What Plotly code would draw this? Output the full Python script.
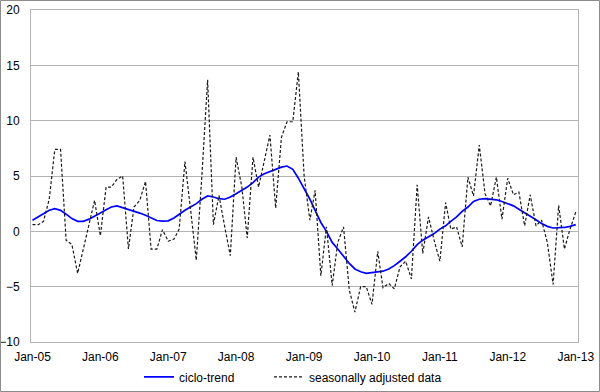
import pandas as pd
import plotly.graph_objects as go

months = pd.date_range("2005-01-01", periods=97, freq="MS")

trend = [1.0, 1.3, 1.6, 1.9, 2.05, 1.9, 1.55, 1.15, 0.9, 0.9, 1.1, 1.35,
         1.65, 1.95, 2.2, 2.3, 2.15, 1.95, 1.8, 1.65, 1.45, 1.2, 0.98, 0.93,
         0.95, 1.2, 1.55, 1.9, 2.2, 2.5, 2.9, 3.2, 3.1, 2.95, 2.9, 3.1,
         3.4, 3.7, 4.0, 4.4, 4.9, 5.2, 5.4, 5.65, 5.8, 5.9, 5.6, 4.8,
         3.9, 2.9, 1.9, 0.8, 0.0, -1.0, -1.6, -2.3, -2.9, -3.4, -3.65, -3.8,
         -3.75, -3.7, -3.6, -3.4, -3.1, -2.7, -2.3, -1.8, -1.2, -0.8, -0.5, -0.2,
         0.2, 0.5, 0.9, 1.3, 1.8, 2.2, 2.7, 2.9, 2.95, 2.9, 2.85, 2.7,
         2.5, 2.3, 2.0, 1.7, 1.4, 1.05, 0.7, 0.45, 0.3, 0.3, 0.35, 0.45,
         0.6]

sa_data = [0.6, 0.6, 0.9, 2.9, 7.4, 7.4, -0.8, -1.2, -3.8, -1.7, 0.5, 2.8,
           -0.4, 4.0, 4.0, 4.7, 5.0, -1.6, 2.2, 2.8, 4.5, -1.6, -1.6, 0.15,
           -0.9, -0.7, 0.2, 6.3, 2.0, -2.6, 5.0, 13.7, 0.6, 3.25, 0.4, -2.2,
           6.7, 4.0, -0.6, 6.7, 4.0, 6.4, 8.7, 2.1, 8.5, 9.9, 9.9, 14.4,
           5.0, 1.0, 3.7, -4.0, 0.4, -4.9, -1.0, 0.4, -5.3, -7.3, -5.0, -5.0,
           -6.6, -1.8, -5.1, -4.7, -5.2, -3.2, -2.7, -4.3, 4.2, -2.0, 1.3, -0.8,
           -2.7, 2.6, 0.2, 0.4, -1.4, 4.9, 3.2, 7.8, 3.4, 2.3, 4.9, 1.1,
           4.8, 3.3, 3.55, 0.5, 3.3, 0.5, 1.0, -1.0, -4.8, 2.35, -1.6, 0.2,
           1.75]

tick_dates = pd.date_range("2005-01-01", periods=9, freq="12MS")
tick_labels = ["Jan-05", "Jan-06", "Jan-07", "Jan-08", "Jan-09",
               "Jan-10", "Jan-11", "Jan-12", "Jan-13"]
minor_ticks = pd.date_range("2005-12-01", periods=8, freq="12MS") + pd.Timedelta(days=15)

grid_col = "#b4b4b4"
xrange = ["2004-12-24", "2013-01-13"]

fig = go.Figure()
fig.add_trace(go.Scatter(x=months, y=trend, mode="lines", name="ciclo-trend",
                         line=dict(color="#0000ff", width=1.7), legend="legend"))
fig.add_trace(go.Scatter(x=months, y=sa_data, mode="lines",
                         name="seasonally adjusted data", legend="legend2",
                         line=dict(color="#1a1a1a", width=1.2, dash="3px,2px")))

leg_common = dict(orientation="h", xanchor="left", y=-0.105, yanchor="middle",
                  font=dict(size=12), itemwidth=30, bgcolor="rgba(0,0,0,0)")

fig.update_layout(
    width=600, height=392,
    margin=dict(l=31, r=22, t=10, b=50, autoexpand=False),
    paper_bgcolor="white", plot_bgcolor="white",
    font=dict(family="Liberation Sans, Arial, sans-serif", size=11, color="black"),
    showlegend=True,
    legend=dict(x=(139 - 31) / 547, **leg_common),
    legend2=dict(x=(269 - 31) / 547, **leg_common),
    xaxis=dict(type="date", range=xrange, tickvals=tick_dates, ticktext=tick_labels,
               showgrid=False, showline=True, linecolor=grid_col, mirror=True,
               ticks="", tickfont=dict(size=12), zeroline=False, automargin=False,
               ticklabelstandoff=4),
    xaxis2=dict(type="date", range=xrange, overlaying="x", anchor="free",
                position=1/3, side="bottom", tickvals=minor_ticks,
                showticklabels=False, ticks="outside", ticklen=3,
                tickcolor=grid_col, showgrid=False, showline=False,
                automargin=False),
    yaxis=dict(range=[-10, 20], dtick=5, showgrid=True, gridcolor=grid_col,
               gridwidth=1, zeroline=False, showline=True, linecolor=grid_col,
               mirror=True, ticks="", tickfont=dict(size=12),
               ticklabelstandoff=8, automargin=False),
)

fig.add_shape(type="rect", xref="paper", yref="paper",
              x0=-30.5/547, x1=568.5/547, y0=-49.5/332, y1=341.5/332,
              line=dict(color="#8c8c8c", width=1), layer="above")

fig.write_html("out.html", config={"displayModeBar": False},
               post_script="document.body.style.margin='0';document.body.style.overflow='hidden';")
